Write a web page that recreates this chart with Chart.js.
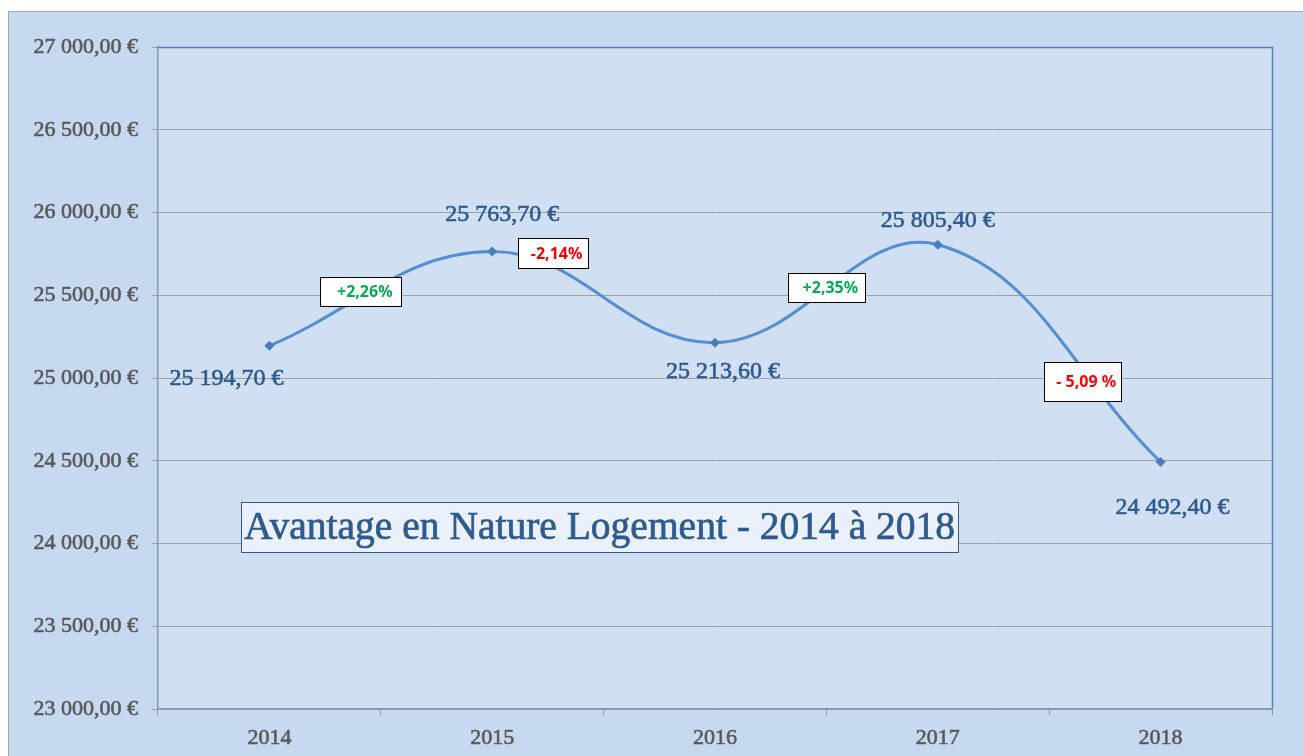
<!DOCTYPE html>
<html lang="fr">
<head>
    <meta charset="UTF-8">
    <title>Avantage en Nature Logement - 2014 à 2018</title>
    <script src="https://cdn.jsdelivr.net/npm/chart.js"></script>
    <style>
        html, body { margin: 0; padding: 0; background: #ffffff; overflow: hidden; }
        #frame {
            position: absolute;
            left: 8px;
            top: 11px;
            width: 1295px;
            height: 745px;
            background: #c6d9f1;
            border-top: 1px solid #a6a6a6;
            border-left: 1px solid #a6a6a6;
            box-sizing: border-box;
        }
        #chart { position: absolute; left: -1px; top: -1px; }
    </style>
</head>
<body>
    <div id="frame">
        <canvas id="chart" width="1295" height="745"></canvas>
    </div>

    <script>
        // Data
        const years = ['2014', '2015', '2016', '2017', '2018'];
        const amounts = [25194.70, 25763.70, 25213.60, 25805.40, 24492.40];
        const changes = ['+2,26%', '-2,14%', '+2,35%', '- 5,09 %'];
        const yMin = 23000;
        const yMax = 27000;
        const yStep = 500;
        const chartTitle = 'Avantage en Nature Logement - 2014 à 2018';

        function euro(v) {
            const parts = v.toFixed(2).split('.');
            const int = parts[0].replace(/\B(?=(\d{3})+(?!\d))/g, ' ');
            return int + ',' + parts[1] + ' €';
        }

        // label offsets around each point (pixels)
        const valueOffsets = [[-43, 33], [10, -37], [8, 29], [0, -24], [12, 46]];
        // percentage boxes: offset from the middle of each segment, and box size
        const changeBoxes = [
            { dx: -20, dy: -7, w: 81, h: 29 },
            { dx: -51, dy: -44, w: 70, h: 30 },
            { dx: 0, dy: -6, w: 77, h: 29 },
            { dx: 33, dy: 28, w: 77, h: 39 }
        ];

        const decorations = {
            id: 'decorations',
            beforeDraw(chart) {
                const { ctx, chartArea: a } = chart;
                ctx.save();
                ctx.fillStyle = '#d0dff2';
                ctx.fillRect(a.left, a.top, a.right - a.left, a.bottom - a.top);
                ctx.restore();
            },
            afterDraw(chart) {
                const { ctx, chartArea: a } = chart;
                const meta = chart.getDatasetMeta(0);
                ctx.save();

                // plot area border top / right
                ctx.strokeStyle = '#5680b8';
                ctx.lineWidth = 1.5;
                ctx.beginPath();
                ctx.moveTo(a.left, a.top + 0.5);
                ctx.lineTo(a.right + 0.5, a.top + 0.5);
                ctx.lineTo(a.right + 0.5, a.bottom);
                ctx.stroke();

                // value labels
                ctx.font = '24px "Liberation Serif"';
                ctx.fillStyle = '#2f5a8e';
                ctx.strokeStyle = '#2f5a8e';
                ctx.lineWidth = 0.6;
                ctx.textAlign = 'center';
                ctx.textBaseline = 'middle';
                meta.data.forEach((pt, i) => {
                    const lx = pt.x + valueOffsets[i][0], ly = pt.y + valueOffsets[i][1];
                    ctx.fillText(euro(amounts[i]), lx, ly);
                    ctx.strokeText(euro(amounts[i]), lx, ly);
                });

                // change boxes
                ctx.font = 'bold 16px "Noto Sans"';
                changes.forEach((txt, i) => {
                    const p0 = meta.data[i], p1 = meta.data[i + 1];
                    const b = changeBoxes[i];
                    const cx = (p0.x + p1.x) / 2 + b.dx;
                    const cy = (p0.y + p1.y) / 2 + b.dy;
                    const x = Math.round(cx - b.w / 2) + 0.5;
                    const y = Math.round(cy - b.h / 2) + 0.5;
                    ctx.fillStyle = '#ffffff';
                    ctx.fillRect(x, y, b.w, b.h);
                    ctx.strokeStyle = '#000000';
                    ctx.lineWidth = 1;
                    ctx.strokeRect(x, y, b.w, b.h);
                    ctx.fillStyle = amounts[i + 1] >= amounts[i] ? '#00b050' : '#ff0000';
                    ctx.fillText(txt, cx + 4, cy + 1);
                });

                // title box
                const tx = 233, ty = 491, tw = 717, th = 50;
                ctx.fillStyle = '#eaf1fa';
                ctx.fillRect(tx + 0.5, ty + 0.5, tw, th);
                ctx.strokeStyle = '#2f5a8f';
                ctx.lineWidth = 1;
                ctx.strokeRect(tx + 0.5, ty + 0.5, tw, th);
                ctx.font = '39.5px "Liberation Serif"';
                ctx.fillStyle = '#2f5a8f';
                ctx.lineWidth = 0.7;
                ctx.fillText(chartTitle, tx + tw / 2, ty + th / 2 + 2);
                ctx.strokeText(chartTitle, tx + tw / 2, ty + th / 2 + 2);

                ctx.restore();
            }
        };

        const ctx = document.getElementById('chart').getContext('2d');
        new Chart(ctx, {
            type: 'line',
            data: {
                labels: years,
                datasets: [{
                    data: amounts,
                    borderColor: '#558ed5',
                    borderWidth: 3,
                    tension: 0.4,
                    pointStyle: 'rectRot',
                    pointRadius: 5,
                    pointBackgroundColor: '#4a7ebb',
                    pointBorderWidth: 0,
                    fill: false
                }]
            },
            options: {
                responsive: false,
                animation: false,
                devicePixelRatio: 1,
                layout: { padding: { top: 36, right: 31, left: 0, bottom: 0 } },
                plugins: {
                    legend: { display: false },
                    tooltip: { enabled: false }
                },
                scales: {
                    x: {
                        offset: true,
                        afterFit(scale) { scale.height = 47; },
                        grid: {
                            offset: true,
                            drawOnChartArea: false,
                            tickLength: 6,
                            color: '#8497b0'
                        },
                        border: { color: '#8497b0', width: 1.5 },
                        ticks: {
                            color: '#595959',
                            padding: 10,
                            textStrokeColor: '#595959',
                            textStrokeWidth: 0.6,
                            font: { family: 'Liberation Serif', size: 22 }
                        }
                    },
                    y: {
                        min: yMin,
                        max: yMax,
                        afterFit(scale) { scale.width = 150; },
                        grid: {
                            color: '#a0a0a0',
                            tickLength: 6,
                            lineWidth: 1
                        },
                        border: { color: '#8497b0', width: 1.5 },
                        ticks: {
                            stepSize: yStep,
                            color: '#595959',
                            padding: 14,
                            textStrokeColor: '#595959',
                            textStrokeWidth: 0.6,
                            font: { family: 'Liberation Serif', size: 22 },
                            callback: (v) => euro(v)
                        }
                    }
                }
            },
            plugins: [decorations]
        });
    </script>
</body>
</html>
